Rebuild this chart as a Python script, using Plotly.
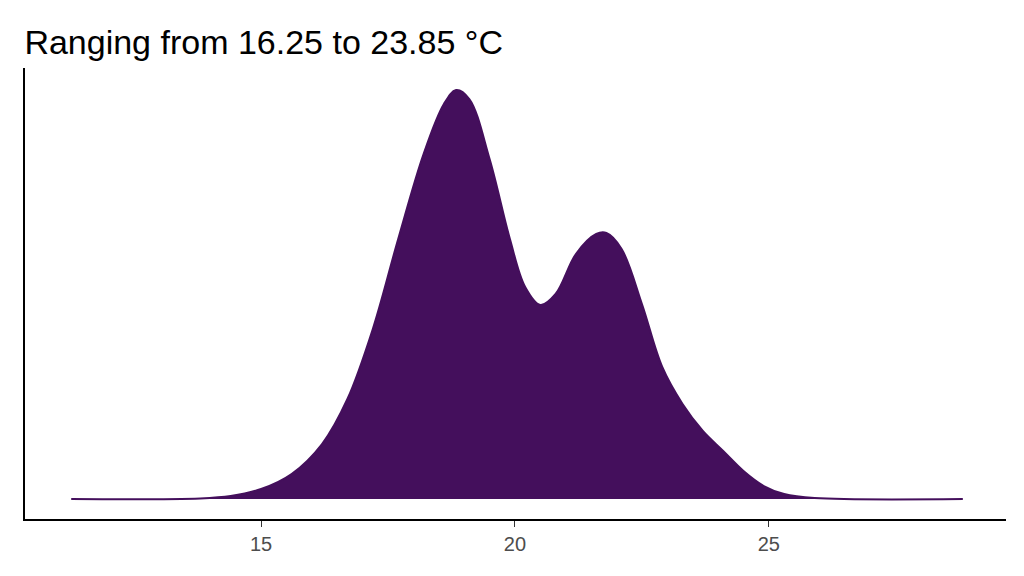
import plotly.graph_objects as go

temp = [11.26, 13.8, 14.4, 15.0, 15.6, 16.2, 16.7, 17.2, 17.7, 18.2, 18.6, 18.84, 19.1, 19.5, 19.9,
        20.2, 20.5, 20.8, 21.2, 21.6, 21.8, 22.1, 22.5, 22.9, 23.3, 23.7, 24.1, 24.5, 24.9, 25.3, 25.9, 28.82]
density = [0.0, 0.0003, 0.0015, 0.005, 0.0125, 0.0275, 0.05, 0.085, 0.13, 0.1725, 0.1975, 0.2045, 0.2, 0.17, 0.13,
           0.106, 0.097, 0.1025, 0.1225, 0.1325, 0.133, 0.125, 0.0975, 0.066, 0.0475, 0.034, 0.024, 0.014, 0.0065, 0.0025, 0.0005, 0.0]
tick_vals = [15, 20, 25]

fig = go.Figure(go.Scatter(x=temp, y=density, mode="lines", fill="tozeroy",
                           line=dict(color="#440F5C", width=2, shape="spline", smoothing=1.0),
                           fillcolor="#440F5C", hoverinfo="skip"))
fig.update_layout(
    width=1024, height=576, plot_bgcolor="white", paper_bgcolor="white",
    margin=dict(l=17, r=26, t=60, b=65), showlegend=False,
    title=dict(text="Ranging from 16.25 to 23.85 °C", x=0.016, xanchor="left", y=0.94, yanchor="middle",
               font=dict(family="Liberation Sans, Arial", size=34, color="black")),
    xaxis=dict(range=[10.35, 29.67], tickvals=tick_vals, showgrid=False, zeroline=False,
               showline=True, linecolor="black", linewidth=2, ticks="outside", ticklen=6,
               tickcolor="#333", tickfont=dict(family="Liberation Sans, Arial", size=20, color="#4d4d4d")),
    yaxis=dict(range=[-0.01, 0.2155], showticklabels=False, showgrid=False, zeroline=False,
               showline=True, linecolor="black", linewidth=2, ticks=""),
)
fig.write_html("out.html")
